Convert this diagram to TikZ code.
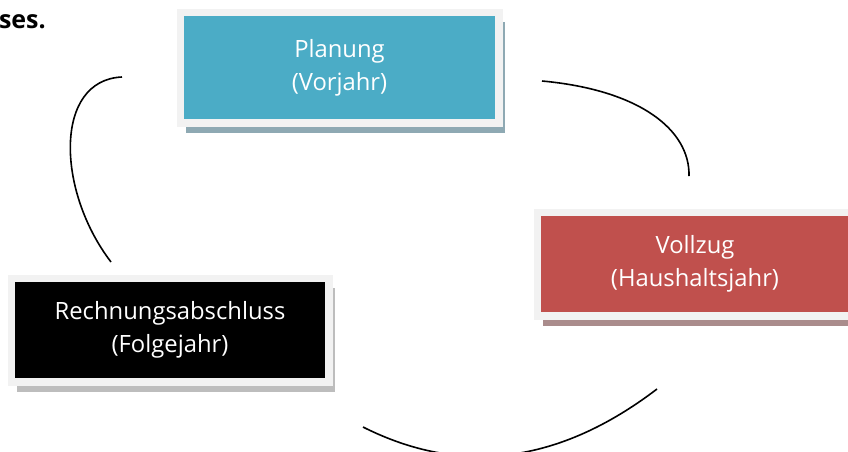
\documentclass[tikz,border=0pt]{standalone}
\usepackage{fontspec}
\setmainfont{Open Sans}
\usetikzlibrary{shadows}
\definecolor{planblue}{HTML}{4BACC6}
\definecolor{vollred}{HTML}{C0504D}
\definecolor{framegrey}{HTML}{F2F2F2}
\definecolor{planshade}{HTML}{8EA9B3}
\definecolor{vollshade}{HTML}{AA8C8C}
\definecolor{abshade}{HTML}{BDBDBD}
\tikzset{
  phase/.style={draw=framegrey,line width=7.5pt,inner sep=0pt,align=center,
    text=white,font=\fontsize{23.8}{33}\selectfont},
  cycle/.style={line width=1.6pt,black}
}
\begin{document}
\begin{tikzpicture}[x=1pt,y=-1pt]
 \useasboundingbox (0,0) rectangle (848,451);
 \fill[white] (0,0) rectangle (848,451);
 \clip (0,0) rectangle (848,451);
 % heading remnant
 \node[anchor=base east,inner sep=0pt,font=\bfseries\fontsize{25}{28}\selectfont] (head) at (46,28) {ses.};
 % phases
 \node[phase,fill=planblue,minimum width=318.5pt,minimum height=110.5pt,
   drop shadow={shadow xshift=6pt,shadow yshift=-10pt,fill=planshade,opacity=1}]
   (planung) at (339.5,67.5) {Planung\\(Vorjahr)};
 \node[phase,fill=vollred,minimum width=315.5pt,minimum height=103.5pt,
   drop shadow={shadow xshift=6pt,shadow yshift=-10pt,fill=vollshade,opacity=1}]
   (vollzug) at (695,264) {Vollzug\\(Haushaltsjahr)};
 \node[phase,fill=black,minimum width=317.5pt,minimum height=103.5pt,
   drop shadow={shadow xshift=6pt,shadow yshift=-10pt,fill=abshade,opacity=1}]
   (abschluss) at (170,330) {Rechnungsabschluss\\(Folgejahr)};
 % arc ends
 \coordinate (pv1) at (542,81);
 \coordinate (pv2) at (689,176);
 \coordinate (va1) at (657,389);
 \coordinate (va2) at (363,427);
 \coordinate (ap1) at (111,262);
 \coordinate (ap2) at (122,77);
 % cycle arcs
 \draw[cycle] (pv1) .. controls (640,90) and (690,130) .. (pv2);
 \draw[cycle] (va1) .. controls (559,463.7) and (461,476.3) .. (va2);
 \draw[cycle] (ap1) .. controls (56,190) and (54,80) .. (ap2);
\end{tikzpicture}
\end{document}
